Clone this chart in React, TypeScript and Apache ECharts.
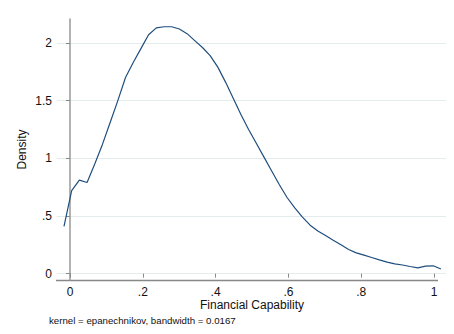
import React, { useEffect, useRef } from "react";
import * as echarts from "echarts";

const xValues = [
  -0.0165, 0.0046, 0.0257, 0.0469, 0.068, 0.0891, 0.1103, 0.1314, 0.1525, 0.1737,
  0.1948, 0.2159, 0.2371, 0.2582, 0.2793, 0.3005, 0.3216, 0.3427, 0.3639, 0.385,
  0.4061, 0.4273, 0.4484, 0.4695, 0.4907, 0.5118, 0.5329, 0.5541, 0.5752, 0.5963,
  0.6175, 0.6386, 0.6597, 0.6809, 0.702, 0.7231, 0.7443, 0.7654, 0.7865, 0.8077,
  0.8288, 0.8499, 0.8711, 0.8922, 0.9133, 0.9345, 0.9556, 0.9767, 0.9979, 1.019,
];

const density = [
  0.41, 0.72, 0.81, 0.79, 0.95, 1.12, 1.31, 1.5, 1.7, 1.83,
  1.95, 2.07, 2.13, 2.14, 2.14, 2.12, 2.08, 2.02, 1.96, 1.89,
  1.79, 1.66, 1.52, 1.38, 1.25, 1.13, 1.01, 0.89, 0.77, 0.66,
  0.57, 0.49, 0.42, 0.37, 0.33, 0.29, 0.25, 0.21, 0.18, 0.16,
  0.14, 0.12, 0.1, 0.085, 0.075, 0.062, 0.05, 0.065, 0.068, 0.04,
];

const xTicks = [0, 0.2, 0.4, 0.6, 0.8, 1];
const yTicks = [0, 0.5, 1, 1.5, 2];

const xTitle = "Financial Capability";
const yTitle = "Density";
const note = "kernel = epanechnikov, bandwidth = 0.0167";

const FONT = "'Liberation Sans', Arial, Helvetica, sans-serif";

const fmt = (v: number) => {
  const s = String(Math.round(v * 1000) / 1000);
  return s.startsWith("0.") ? s.slice(1) : s;
};

export default function App() {
  const ref = useRef<HTMLDivElement>(null);
  useEffect(() => {
    if (!ref.current) return;
    const chart = echarts.init(ref.current, undefined, { renderer: "svg" });
    chart.setOption({
      animation: false,
      backgroundColor: "#ffffff",
      textStyle: { fontFamily: FONT },
      grid: { left: 57, right: 7, top: 19, bottom: 54 },
      xAxis: {
        type: "value",
        min: -0.0357,
        max: 1.0357,
        name: xTitle,
        nameLocation: "middle",
        nameGap: 19,
        nameMoveOverlap: false,
        nameTextStyle: { fontSize: 12, color: "#111", fontFamily: FONT },
        axisLine: { show: false },
        axisTick: {
          show: true,
          customValues: xTicks,
          length: 4,
          lineStyle: { color: "#888", width: 1 },
        },
        axisLabel: {
          customValues: xTicks,
          formatter: (v: number) => fmt(v),
          fontSize: 12,
          color: "#111",
          margin: 6,
          fontFamily: FONT,
        },
        splitLine: { show: false },
      },
      yAxis: {
        type: "value",
        min: -0.055,
        max: 2.207,
        name: yTitle,
        nameLocation: "middle",
        nameGap: 29,
        nameMoveOverlap: false,
        nameTextStyle: { fontSize: 12, color: "#111", fontFamily: FONT },
        axisLine: { show: true, lineStyle: { color: "#999", width: 1.5 } },
        axisTick: {
          show: true,
          customValues: yTicks,
          length: 4,
          lineStyle: { color: "#888", width: 1 },
        },
        axisLabel: {
          customValues: yTicks,
          formatter: (v: number) => fmt(v),
          fontSize: 12,
          color: "#111",
          margin: 5,
          fontFamily: FONT,
        },
        splitLine: { show: false },
      },
      series: [
        {
          type: "line",
          data: xValues.map((x, i) => [x, density[i]]),
          showSymbol: false,
          symbol: "none",
          lineStyle: { color: "#1f4e7e", width: 1.2 },
          markLine: {
            silent: true,
            symbol: "none",
            label: { show: false },
            lineStyle: { color: "#e3ecec", width: 1, type: "solid" },
            data: yTicks.map((v) => ({ yAxis: v })),
            z: 0,
          },
        },
      ],
      graphic: [
        {
          type: "line",
          shape: { x1: 4, y1: 7, x2: 454, y2: 7 },
          style: { stroke: "#f0f0f0", lineWidth: 1 },
          silent: true,
        },
        {
          type: "line",
          shape: { x1: 4, y1: 7, x2: 4, y2: 334 },
          style: { stroke: "#f0f0f0", lineWidth: 1 },
          silent: true,
        },
        {
          type: "line",
          shape: { x1: 56, y1: 280.5, x2: 438, y2: 280.5 },
          style: { stroke: "#888", lineWidth: 1.5 },
          silent: true,
        },
        {
          type: "text",
          left: 49,
          top: 315.5,
          style: {
            text: note,
            fontSize: 9.7,
            fill: "#111",
            fontFamily: FONT,
          },
        },
      ],
    });
    return () => chart.dispose();
  }, []);
  return <div ref={ref} style={{ width: 454, height: 334, margin: -8 }} />;
}
